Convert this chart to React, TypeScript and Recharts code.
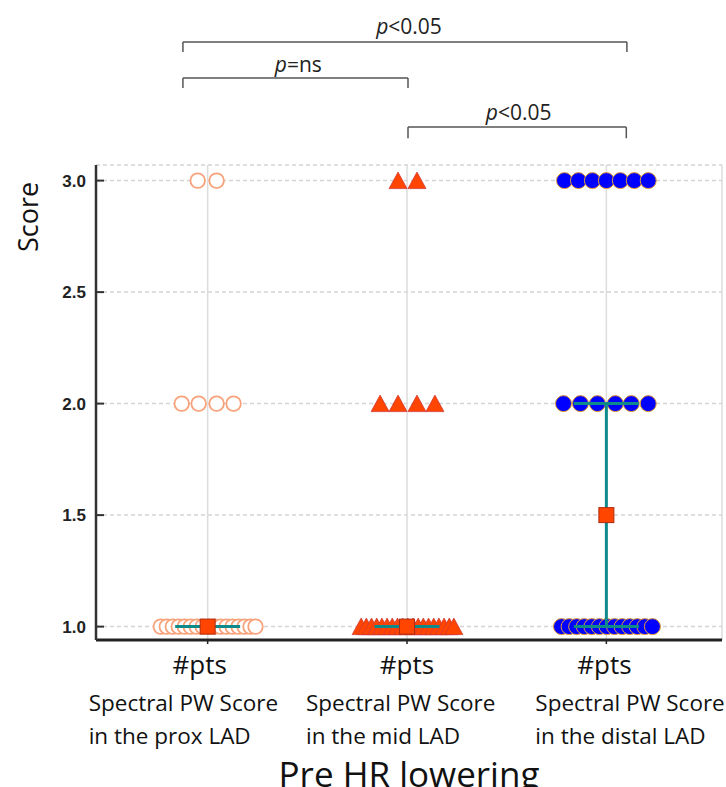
import React from 'react';
import {
  ScatterChart,
  Scatter,
  XAxis,
  YAxis,
  CartesianGrid,
  ReferenceLine,
  ReferenceDot,
  Label,
} from 'recharts';

// ---------- data ----------
const categories = [1, 2, 3];
const categoryTitle = '#pts';
const categoryLines = [
  ['Spectral PW Score', 'in the prox LAD'],
  ['Spectral PW Score', 'in the mid LAD'],
  ['Spectral PW Score', 'in the distal LAD'],
];
const xAxisTitle = 'Pre HR lowering';
const yAxisTitle = 'Score';
const yTicks = [1.0, 1.5, 2.0, 2.5, 3.0];

// beeswarm x positions (category units) of each point, per score level
const proxAt3 = [0.95, 1.045];
const proxAt2 = [0.87, 0.955, 1.045, 1.13];
const proxAt1 = [0.765, 0.795, 0.825, 0.855, 0.885, 0.915, 0.945, 0.975, 1.005, 1.035, 1.065, 1.095, 1.125, 1.155, 1.185, 1.215, 1.24];
const midAt3 = [1.955, 2.05];
const midAt2 = [1.865, 1.955, 2.05, 2.14];
const midAt1 = [1.77, 1.796, 1.822, 1.848, 1.874, 1.9, 1.926, 1.952, 1.978, 2.004, 2.03, 2.056, 2.082, 2.108, 2.134, 2.16, 2.186, 2.212, 2.235];
const distalAt3 = [2.79, 2.86, 2.93, 3.0, 3.07, 3.14, 3.21];
const distalAt2 = [2.785, 2.87, 2.955, 3.045, 3.125, 3.21];
const distalAt1 = [2.775, 2.813, 2.851, 2.889, 2.927, 2.965, 3.003, 3.041, 3.079, 3.117, 3.155, 3.193, 3.231];

const medians = [1, 1, 1.5];
const iqrLow = [1, 1, 1];
const iqrHigh = [1, 1, 2];

const comparisons = [
  { from: 1, to: 3, text: '<0.05' },
  { from: 1, to: 2, text: '=ns' },
  { from: 2, to: 3, text: '<0.05' },
];

// ---------- layout (annotation placement / sizes, not data) ----------
const bracketLayout = [
  { x0: 0.876, x1: 3.103, level: 3.622, tip: 3.577, labelX: 2.01, labelY: 3.657 },
  { x0: 0.876, x1: 2.005, level: 3.46, tip: 3.415, labelX: 1.455, labelY: 3.487 },
  { x0: 2.005, x1: 3.1, level: 3.24, tip: 3.19, labelX: 2.56, labelY: 3.272 },
];
const capHalf = 0.163; // half width of IQR caps, in category units
const titleDx = [-8, 0, -2];
const linesDx = [-119, -101, -71];

const FONT = 'Open Sans, sans-serif';
const TEAL = '#0E8A8A';

const pts = (xs: number[], y: number) => xs.map((x) => ({ x, y }));
const proxData = [...pts(proxAt3, 3), ...pts(proxAt2, 2), ...pts(proxAt1, 1)];
const midData = [...pts(midAt3, 3), ...pts(midAt2, 2), ...pts(midAt1, 1)];
const distalData = [...pts(distalAt3, 3), ...pts(distalAt2, 2), ...pts(distalAt1, 1)];
const medianData = categories.map((c, i) => ({ x: c, y: medians[i] }));
// IQR whisker drawn as one polyline per group: low cap, stem, high cap
const iqrPaths = categories.map((c, i) => [
  { x: c - capHalf, y: iqrLow[i] },
  { x: c + capHalf, y: iqrLow[i] },
  { x: c, y: iqrLow[i] },
  { x: c, y: iqrHigh[i] },
  { x: c - capHalf, y: iqrHigh[i] },
  { x: c + capHalf, y: iqrHigh[i] },
]);

// ---------- shapes ----------
const OpenCircle = (p: any) => (
  <circle cx={p.cx} cy={p.cy} r={7.3} fill="#ffffff" stroke="#F7A27A" strokeWidth={1.8} />
);
const Triangle = (p: any) => (
  <polygon
    points={`${p.cx},${p.cy - 8.5} ${p.cx - 9},${p.cy + 8} ${p.cx + 9},${p.cy + 8}`}
    fill="#FF4500"
    stroke="#D23A3A"
    strokeWidth={0.8}
  />
);
const BlueDot = (p: any) => (
  <circle cx={p.cx} cy={p.cy} r={8} fill="#0000FF" stroke="#E8A030" strokeWidth={1} />
);
const Square = (p: any) => (
  <rect x={p.cx - 7.5} y={p.cy - 7.5} width={15} height={15} fill="#FF4500" stroke="#B02A10" strokeWidth={1} />
);
const NoShape = () => <g />;

const XTick = (props: any) => {
  const { x, y, payload } = props;
  const i = categories.indexOf(payload.value);
  if (i < 0) return null;
  return (
    <g>
      <text x={x + titleDx[i]} y={y + 30} textAnchor="middle" fontFamily={FONT} fontSize={26} fill="#111">
        {categoryTitle}
      </text>
      <text x={x + linesDx[i]} y={y + 67} textAnchor="start" fontFamily={FONT} fontSize={22.5} fill="#111">
        {categoryLines[i][0]}
      </text>
      <text x={x + linesDx[i]} y={y + 100} textAnchor="start" fontFamily={FONT} fontSize={22.5} fill="#111">
        {categoryLines[i][1]}
      </text>
    </g>
  );
};

const YTick = (props: any) => {
  const { x, y, payload } = props;
  return (
    <g>
      <line x1={x + 10} x2={x + 18} y1={y} y2={y} stroke="#333" strokeWidth={2} />
      <text
        x={x}
        y={y}
        dy={6}
        textAnchor="end"
        fontFamily="Liberation Sans, Arial, sans-serif"
        fontWeight="bold"
        fontSize={17}
        fill="#222"
      >
        {Number(payload.value).toFixed(1)}
      </text>
    </g>
  );
};

export default function App() {
  return (
    <div style={{ position: 'absolute', left: 0, top: 0, background: '#fff' }}>
      <ScatterChart width={726} height={787} margin={{ top: 165, right: 4, bottom: 0, left: 0 }}>
        <CartesianGrid horizontal={true} vertical={false} stroke="#d4d4d4" strokeDasharray="4 3" strokeWidth={1.5} />
        <CartesianGrid horizontal={false} vertical={true} stroke="#dcdcdc" strokeWidth={1.5} />
        <XAxis
          type="number"
          dataKey="x"
          domain={[0.44, 3.58]}
          allowDataOverflow
          ticks={categories}
          interval={0}
          height={147}
          tickSize={4}
          tickMargin={0}
          axisLine={{ stroke: '#222', strokeWidth: 3 }}
          tickLine={{ stroke: '#222', strokeWidth: 1.5 }}
          tick={<XTick />}
        >
          <Label
            content={(p: any) => {
              const vb = p.viewBox || { x: 96, y: 640, width: 626 };
              return (
                <text
                  x={vb.x + vb.width / 2}
                  y={vb.y + 147}
                  textAnchor="middle"
                  fontFamily={FONT}
                  fontSize={35}
                  fill="#111"
                >
                  {xAxisTitle}
                </text>
              );
            }}
          />
        </XAxis>
        <YAxis
          type="number"
          dataKey="y"
          domain={[0.94, 3.07]}
          allowDataOverflow
          ticks={yTicks}
          interval={0}
          width={96}
          tickSize={0}
          tickMargin={10}
          axisLine={{ stroke: '#333', strokeWidth: 2.5 }}
          tickLine={false}
          tick={<YTick />}
        >
          <Label
            content={(p: any) => {
              const vb = p.viewBox || { x: 0, y: 165 };
              const cx = vb.x + 27;
              const cy = vb.y + 52;
              return (
                <text
                  x={cx}
                  y={cy}
                  transform={`rotate(-90 ${cx} ${cy})`}
                  textAnchor="middle"
                  dominantBaseline="central"
                  fontFamily={FONT}
                  fontSize={27}
                  fill="#111"
                >
                  {yAxisTitle}
                </text>
              );
            }}
          />
        </YAxis>

        <Scatter data={proxData} shape={OpenCircle} isAnimationActive={false} />
        <Scatter data={midData} shape={Triangle} isAnimationActive={false} />
        <Scatter data={distalData} shape={BlueDot} isAnimationActive={false} />
        {iqrPaths.map((path, i) => (
          <Scatter
            key={`iqr-${i}`}
            data={path}
            shape={NoShape}
            line={{ stroke: TEAL, strokeWidth: 3 }}
            lineType="joint"
            isAnimationActive={false}
          />
        ))}
        <Scatter data={medianData} shape={Square} isAnimationActive={false} />

        {comparisons.map((c, i) => {
          const b = bracketLayout[i];
          return (
            <React.Fragment key={`br-${i}`}>
              <ReferenceLine
                segment={[{ x: b.x0, y: b.level }, { x: b.x1, y: b.level }]}
                ifOverflow="visible"
                stroke="#555"
                strokeWidth={1.5}
              />
              <ReferenceLine
                segment={[{ x: b.x0, y: b.level }, { x: b.x0, y: b.tip }]}
                ifOverflow="visible"
                stroke="#555"
                strokeWidth={1.5}
              />
              <ReferenceLine
                segment={[{ x: b.x1, y: b.level }, { x: b.x1, y: b.tip }]}
                ifOverflow="visible"
                stroke="#555"
                strokeWidth={1.5}
              />
              <ReferenceDot
                x={b.labelX}
                y={b.labelY}
                r={1}
                ifOverflow="visible"
                shape={(p: any) => (
                  <text x={p.cx} y={p.cy} textAnchor="middle" fontFamily={FONT} fontSize={21} fill="#222">
                    <tspan fontStyle="italic">p</tspan>
                    {c.text}
                  </text>
                )}
              />
            </React.Fragment>
          );
        })}
      </ScatterChart>
    </div>
  );
}
